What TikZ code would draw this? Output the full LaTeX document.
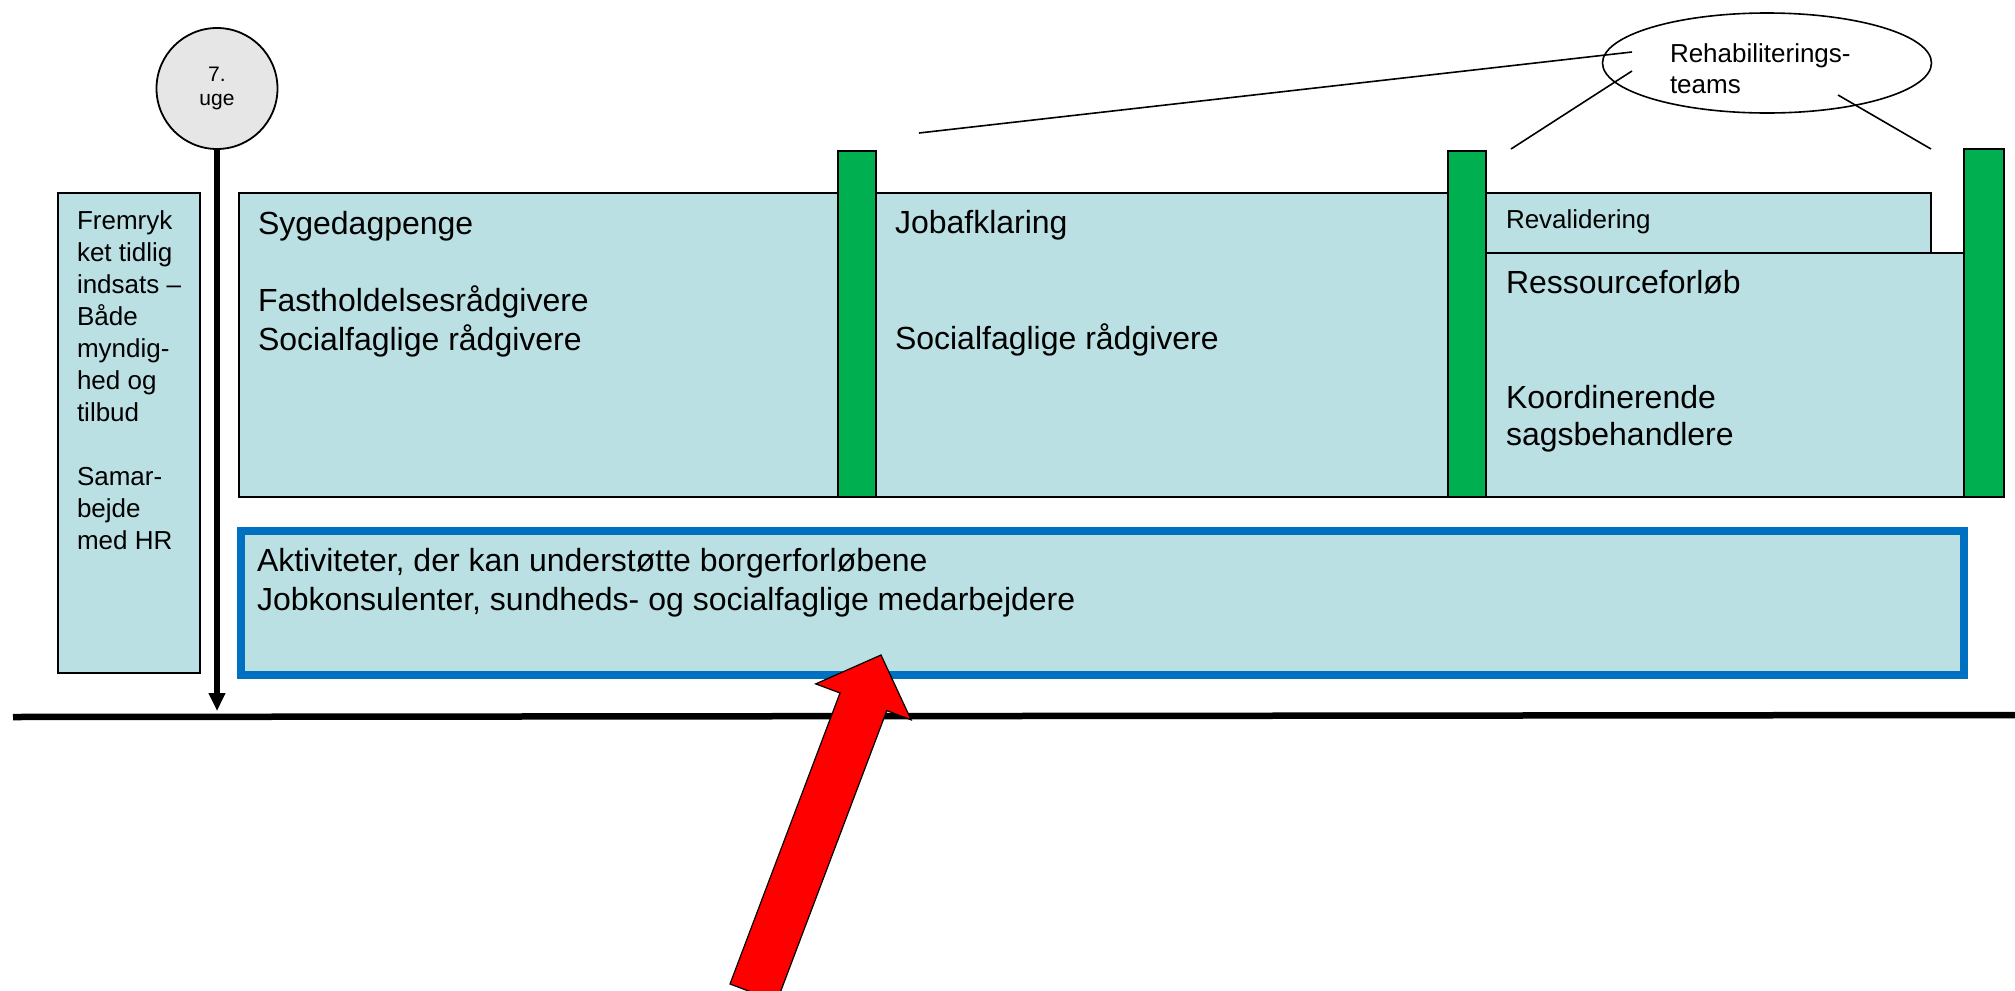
\documentclass[tikz,border=0pt]{standalone}
\usepackage{fontspec}
\setmainfont{Liberation Sans}
\usetikzlibrary{arrows.meta,shapes.geometric}
\definecolor{boxfill}{RGB}{187,224,227}
\definecolor{barfill}{RGB}{0,176,80}
\definecolor{actblue}{RGB}{0,112,192}
\definecolor{circfill}{RGB}{230,230,230}
\newcommand{\tp}{\rule{0pt}{1em}}
\begin{document}
\begin{tikzpicture}[x=0.5pt,y=-0.5pt,
  panel/.style={draw=black,line width=0.9pt,fill=boxfill},
  bar/.style={draw=black,line width=0.9pt,fill=barfill},
  txt/.style={inner sep=0pt,outer sep=0pt,anchor=north west,align=left},
  big/.style={font=\fontsize{16}{19.5}\selectfont},
  mid/.style={font=\fontsize{13}{16}\selectfont},
  link/.style={draw=black,line width=0.8pt}]
\useasboundingbox (0,0) rectangle (2015,991);
\clip (0,0) rectangle (2015,991);

% panels
\draw[panel] (58,193) rectangle (200,673);
\draw[panel] (239,193) rectangle (838,497);
\draw[panel] (875,193) rectangle (1448,497);
\draw[panel] (1486,193) rectangle (1931,253);
\draw[panel] (1486,253) rectangle (1964,497);
\draw[panel,draw=actblue,line width=4pt] (241,531) rectangle (1964,675);

% green bars
\draw[bar] (838,151) rectangle (876,497);
\draw[bar] (1448,151) rectangle (1486,497);
\draw[bar] (1964,149) rectangle (2004,497);

% texts
\node[txt,mid] (early) at (77,203) {\tp Fremryk\\ket tidlig\\indsats –\\Både\\myndig-\\hed og\\tilbud\\[16pt]Samar-\\bejde\\med HR};
\node[txt,big] (syge) at (258,202) {\tp Sygedagpenge};
\node[txt,big] (sygestaff) at (258,279) {\tp Fastholdelsesrådgivere\\Socialfaglige rådgivere};
\node[txt,big] (job) at (895,201) {\tp Jobafklaring};
\node[txt,big] (jobstaff) at (895,317) {\tp Socialfaglige rådgivere};
\node[txt,mid] (reval) at (1506,202) {\tp Revalidering};
\node[txt,big] (ress) at (1506,261) {\tp Ressourceforløb};
\node[txt,font=\fontsize{16}{18.5}\selectfont] (koord) at (1506,376) {\tp Koordinerende\\sagsbehandlere};
\node[txt,big] (akt) at (257,539) {\tp Aktiviteter, der kan understøtte borgerforløbene\\Jobkonsulenter, sundheds- og socialfaglige medarbejdere};

% week circle
\node[circle,draw=black,line width=0.9pt,fill=circfill,minimum size=60.5pt,inner sep=0pt,outer sep=0pt,align=center,font=\fontsize{10.5}{12}\selectfont] (week) at (217,88.5) {7.\\uge};

% rehabilitation teams ellipse
\node[ellipse,draw=black,line width=0.8pt,minimum width=164.5pt,minimum height=50pt,inner sep=0pt] (rehab) at (1767,63) {};
\node[txt,font=\fontsize{13}{15.5}\selectfont] (rehabtxt) at (1670,36) {\tp Rehabiliterings-\\teams};

\coordinate (l1a) at (919,133);
\coordinate (l1b) at (1632,52);
\coordinate (l2a) at (1511,149);
\coordinate (l2b) at (1632,71);
\coordinate (l3a) at (1838,95);
\coordinate (l3b) at (1931,149);
\draw[link] (l1a) -- (l1b);
\draw[link] (l2a) -- (l2b);
\draw[link] (l3a) -- (l3b);

% timeline
\coordinate (tl) at (13,717);
\coordinate (tr) at (2015,715);
\draw[line width=3.25pt] (tl) -- (tr);

% week arrow
\coordinate (tick) at (217,711);
\draw[line width=3pt,-{Triangle[width=8pt,length=9pt]}] (week.south) -- (tick);

% red arrow
\draw[fill=red,draw=black,line width=0.6pt] (881,655) -- (815.7,683.9) -- (840,693) -- (730,984) -- (776.8,1001.6) -- (886.8,710.6) -- (911.1,719.8) -- cycle;
\end{tikzpicture}
\end{document}
